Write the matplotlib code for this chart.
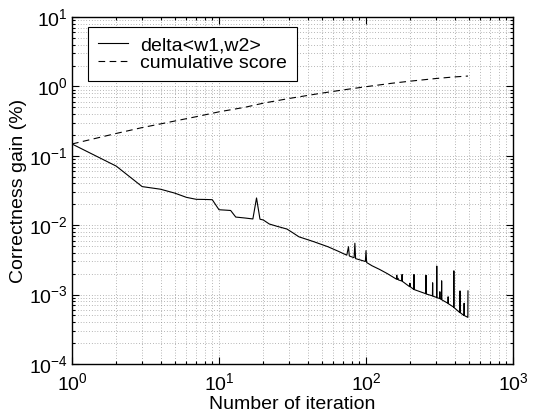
import matplotlib
import matplotlib.pyplot as plt

matplotlib.use('Agg')

plt.rcParams['font.family'] = ['Liberation Sans', 'DejaVu Sans']
plt.rcParams['mathtext.default'] = 'regular'

# delta<w1,w2> (iteration, gain %)
delta_iter = [1, 2, 3, 4, 5, 6, 7, 8, 9, 10, 11, 12, 13, 15, 17, 18, 19, 20,
              22, 25, 29, 32, 35, 44, 55, 65, 70, 74, 76, 77, 83, 84, 85,
              99, 100, 101, 110, 124, 140, 161, 162, 163, 165, 166, 175, 176,
              177, 198, 199, 200, 211, 212, 213, 255, 256, 257, 283, 284, 285,
              302, 303, 304, 317, 318, 319, 326, 327, 328, 361, 362, 363,
              395, 396, 397, 435, 436, 437, 464, 465, 466, 493, 494]
delta_gain = [0.148, 0.071, 0.036, 0.033, 0.029, 0.0252, 0.0236, 0.0235,
              0.0233, 0.0167, 0.0165, 0.0163, 0.0131, 0.0127, 0.0123, 0.0247,
              0.0122, 0.0119, 0.0104, 0.0096, 0.0088, 0.0077, 0.0068, 0.0058,
              0.0049, 0.0042, 0.0039, 0.0037, 0.0049, 0.0036, 0.0034, 0.0055,
              0.0033, 0.0030, 0.0043, 0.0029, 0.0026, 0.0023, 0.0020,
              0.00167, 0.0019, 0.00166, 0.00172, 0.00163, 0.00157, 0.00195,
              0.00155, 0.0013, 0.00146, 0.0013, 0.00119, 0.00195, 0.00118,
              0.00103, 0.0019, 0.00102, 0.00096, 0.00148, 0.00095,
              0.00091, 0.00258, 0.00090, 0.00088, 0.0011, 0.00087,
              0.00085, 0.00158, 0.00084, 0.00075, 0.00093, 0.00074,
              0.00066, 0.0022, 0.00065, 0.00055, 0.00113, 0.00055,
              0.0005, 0.00075, 0.0005, 0.00047, 0.00113]

# cumulative score
cum_iter = [1, 2, 3, 4, 5, 7, 10, 15, 20, 30, 50, 70, 100, 150, 200, 300,
            400, 494]
cum_score = [0.148, 0.21, 0.255, 0.288, 0.317, 0.366, 0.43, 0.50, 0.573,
             0.67, 0.80, 0.89, 0.99, 1.11, 1.19, 1.30, 1.37, 1.41]

fig = plt.figure(figsize=(5.35, 4.19), dpi=100)
ax = fig.add_axes([72 / 535, 1 - 364 / 419, 441 / 535, 347 / 419])

ax.loglog(delta_iter, delta_gain, color='black', lw=0.8, label='delta<w1,w2>')
ax.loglog(cum_iter, cum_score, color='black', lw=0.8, linestyle=(0, (6, 4)),
          label='cumulative score')

ax.set_xlim(1, 1000)
ax.set_ylim(1e-4, 10)
ax.grid(True, which='both', color='0.45', linestyle=(0, (1, 3)), lw=0.5)

ax.tick_params(which='both', direction='in', top=True, right=True,
               labelsize=14, width=0.8)
ax.tick_params(which='major', length=5)
ax.tick_params(which='minor', length=2.5)
ax.tick_params(axis='x', which='major', pad=6)
ax.tick_params(axis='y', which='major', pad=3)
for s in ax.spines.values():
    s.set_linewidth(1.0)

ax.set_xlabel('Number of iteration', fontsize=14, labelpad=1)
ax.set_ylabel('Correctness gain (%)', fontsize=14, labelpad=1)

leg = ax.legend(loc='upper left', bbox_to_anchor=(0.036, 0.972), fontsize=14,
                fancybox=False, framealpha=1, edgecolor='black',
                borderaxespad=0, borderpad=0.5, handlelength=1.55,
                handletextpad=0.65, labelspacing=0.0)
leg.get_frame().set_linewidth(0.8)

fig.savefig('out.png', dpi=100)
